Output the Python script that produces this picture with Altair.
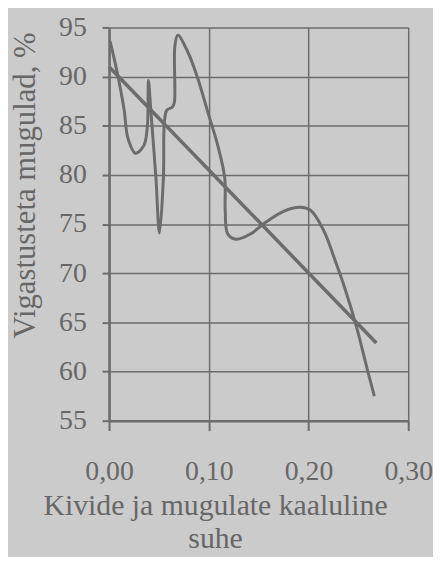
import altair as alt
import pandas as pd

# measured curve (path order)
curve_x = [0.001, 0.008, 0.015, 0.019, 0.0265, 0.035, 0.0385, 0.0395, 0.042, 0.047,
           0.0505, 0.0545, 0.0555, 0.058, 0.0635, 0.0655, 0.066, 0.069, 0.079, 0.089,
           0.099, 0.109, 0.116, 0.1165, 0.119, 0.1275, 0.142, 0.156, 0.175, 0.192,
           0.202, 0.215, 0.226, 0.237, 0.248, 0.259, 0.266]
curve_y = [93.6, 90.5, 86.7, 83.7, 82.2, 83.0, 85.1, 89.6, 86.4, 79.7,
           74.1, 79.7, 85.4, 86.6, 86.9, 87.4, 93.1, 94.2, 92.5, 89.8,
           86.4, 83.0, 79.7, 76.3, 74.0, 73.45, 74.0, 75.1, 76.3, 76.7,
           76.4, 74.4, 71.5, 68.3, 64.6, 60.2, 57.5]

trend_x = [0.0, 0.268]
trend_y = [91.0, 62.9]

x_ticks = [0.0, 0.1, 0.2, 0.3]
y_ticks = [55, 60, 65, 70, 75, 80, 85, 90, 95]

x_title = ["Kivide ja mugulate kaaluline", "suhe"]
y_title = "Vigastusteta mugulad, %"

curve = pd.DataFrame({"x": curve_x, "y": curve_y, "i": list(range(len(curve_x)))})
trend = pd.DataFrame({"x": trend_x, "y": trend_y, "i": [0, 1]})

GRAY = "#6c6c6c"
TXT = "#676767"
FONT = "Liberation Serif"

xenc = alt.X("x:Q", scale=alt.Scale(domain=[0, 0.3], nice=False, zero=False),
             axis=alt.Axis(values=x_ticks, title=x_title,
                           labelExpr="replace(format(datum.value, '.2f'), '.', ',')",
                           tickSize=10, labelPadding=27, titleX=107, titleY=95,
                           titleAlign="center", titleBaseline="alphabetic", titleLineHeight=33,
                           titleFontSize=30, labelFlush=False))
yenc = alt.Y("y:Q", scale=alt.Scale(domain=[55, 95], nice=False, zero=False),
             axis=alt.Axis(values=y_ticks, title=y_title, tickSize=7, labelPadding=16,
                           titleX=-84, titleY=159, titleAngle=270, titleAlign="center",
                           titleBaseline="middle", titleFontSize=31))

c1 = alt.Chart(curve).mark_line(interpolate="catmull-rom", color=GRAY, strokeWidth=3).encode(
    x=xenc, y=yenc, order="i:Q")
c2 = alt.Chart(trend).mark_line(color=GRAY, strokeWidth=3.5).encode(
    x=alt.X("x:Q"), y=alt.Y("y:Q"), order="i:Q")

chart = alt.layer(c1, c2).properties(
    width=302, height=397,
    autosize=alt.AutoSizeParams(type="none"),
    padding={"left": 102, "top": 17, "right": 25, "bottom": 135},
    background="#cbcbcb",
).configure_view(stroke=None).configure_axis(
    grid=True, gridColor=GRAY, gridWidth=1.5, gridOpacity=1,
    domainColor=GRAY, domainWidth=2.5, tickColor=GRAY, tickWidth=2,
    labelFont=FONT, labelFontSize=28, labelColor=TXT,
    titleFont=FONT, titleColor=TXT, titleFontWeight="normal",
)

chart.save("out.html", embed_options={"renderer": "svg", "actions": False})
